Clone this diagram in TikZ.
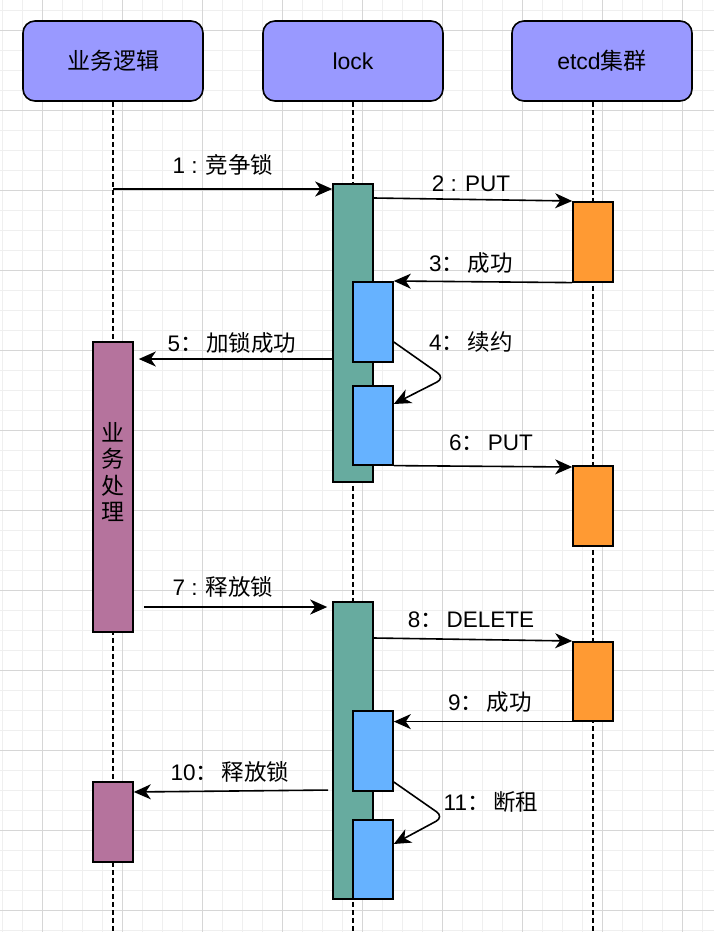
\documentclass[tikz,border=0pt]{standalone}
\usepackage{fontspec}
\setmainfont{Liberation Sans}
\newfontfamily\cjk{Noto Sans CJK SC}
\usetikzlibrary{arrows.meta,calc}
\definecolor{hdr}{HTML}{9999FF}
\definecolor{gbar}{HTML}{67AB9F}
\definecolor{obar}{HTML}{FF9A33}
\definecolor{bbar}{HTML}{66B2FF}
\definecolor{pbar}{HTML}{B5739D}
\definecolor{gridminor}{HTML}{EFEFEF}
\definecolor{gridmajor}{HTML}{D6D6D6}
\begin{document}
\begin{tikzpicture}[x=1pt,y=-1pt,
  header/.style={draw, line width=1.6pt, rounded corners=12pt, fill=hdr, minimum width=180pt, minimum height=80pt, inner sep=0pt, font=\fontsize{23}{27}\selectfont},
  bar/.style={draw, line width=1.6pt, minimum width=40pt, inner sep=0pt, anchor=north},
  greenbar/.style={bar, fill=gbar},
  bluebar/.style={bar, fill=bbar},
  orangebar/.style={bar, fill=obar},
  purplebar/.style={bar, fill=pbar},
  lifeline/.style={line width=1.6pt, dash pattern=on 5pt off 3pt},
  msg/.style={line width=1.6pt, -{Stealth[length=17pt,width=15pt,inset=5pt]}},
  lbl/.style={font=\fontsize{22.5}{27}\selectfont, inner sep=0pt},
]
\useasboundingbox (0,0) rectangle (714,932);
\fill[white] (0,0) rectangle (714,932);
% grid
\foreach \x in {2,22,...,712} \draw[gridminor, line width=0.8pt] (\x,0) -- (\x,932);
\foreach \y in {10,30,...,930} \draw[gridminor, line width=0.8pt] (0,\y) -- (714,\y);
\foreach \x in {42,122,...,712} \draw[gridmajor, line width=0.9pt] (\x,0) -- (\x,932);
\foreach \y in {30,110,...,930} \draw[gridmajor, line width=0.9pt] (0,\y) -- (714,\y);

% headers
\node[header] (h1) at (113,61) {\cjk 业务逻辑};
\node[header] (h2) at (353,61) {lock};
\node[header] (h3) at (602,61) {etcd{\cjk 集群}};

% lifelines
\coordinate (e1) at (113,932);
\coordinate (e2) at (353,932);
\coordinate (e3) at (593,932);
\draw[lifeline] (h1.south) -- (e1);
\draw[lifeline] (h2.south) -- (e2);
\draw[lifeline] (h3.south -| e3) -- (e3);

% activation bars
\node[greenbar, minimum height=298pt] (g1) at (353,183) {};
\node[bluebar, minimum height=80pt] (b1) at (373,281) {};
\node[bluebar, minimum height=79pt] (b2) at (373,385) {};
\node[orangebar, minimum height=80pt] (o1) at (593,201) {};
\node[orangebar, minimum height=80pt] (o2) at (593,465) {};
\node[purplebar, minimum height=290pt] (p1) at (113,341) {};
\node[font=\fontsize{23}{26.5}\selectfont, align=center, inner sep=0pt] (pt) at (113,472) {\cjk 业\\\cjk 务\\\cjk 处\\\cjk 理};

\node[greenbar, minimum height=297pt] (g2) at (353,601) {};
\node[bluebar, minimum height=80pt] (b3) at (373,710) {};
\node[bluebar, minimum height=79pt] (b4) at (373,819) {};
\node[orangebar, minimum height=79pt] (o3) at (593,641) {};
\node[purplebar, minimum height=80pt] (p2) at (113,781) {};

% messages
\coordinate (c4) at (445,378);
\coordinate (c11) at (444,817);
\draw[msg] (h1.south |- 0,189) -- (g1.west |- 0,189);
\draw[msg] (g1.east |- 0,198) -- (o1.north west);
\draw[msg] (o1.south west) -- (b1.north east);
\draw[msg, rounded corners=9pt] (b1.east |- 0,342) -- (c4) -- (b2.east |- 0,404);
\draw[msg, shorten >=5pt] (g1.west |- 0,359) -- (p1.east |- 0,359);
\draw[msg] (b2.south east) -- (o2.west |- 0,467);
\draw[msg, shorten <=10pt, shorten >=5pt] (p1.east |- 0,607) -- (g2.west |- 0,607);
\draw[msg] (g2.east |- 0,638) -- (o3.west |- 0,641);
\draw[msg] (o3.south west) -- (b3.east |- o3.south west);
\draw[msg, shorten <=4pt] (g2.west |- 0,790) -- (p2.east |- 0,792);
\draw[msg, rounded corners=9pt] (b3.east |- 0,782) -- (c11) -- (b4.east |- 0,844);

% labels
\node[lbl] (l1) at (223,165) {1 : {\cjk 竞争锁}};
\node[lbl] (l2) at (471,184) {2 : PUT};
\node[lbl] (l3) at (471,263) {3{\cjk ：}\,{\cjk 成功}};
\node[lbl] (l4) at (471,342) {4{\cjk ：}\,{\cjk 续约}};
\node[lbl] (l5) at (232,343) {5{\cjk ：}\,{\cjk 加锁成功}};
\node[lbl] (l6) at (491,443) {6{\cjk ：}\,PUT};
\node[lbl] (l7) at (223,587) {7 : {\cjk 释放锁}};
\node[lbl] (l8) at (471,620) {8{\cjk ：}\,DELETE};
\node[lbl] (l9) at (490,702) {9{\cjk ：}\,{\cjk 成功}};
\node[lbl] (l10) at (230,772) {10{\cjk ：}\,{\cjk 释放锁}};
\node[lbl] (l11) at (491,802) {11{\cjk ：}\,{\cjk 断租}};
\end{tikzpicture}
\end{document}
